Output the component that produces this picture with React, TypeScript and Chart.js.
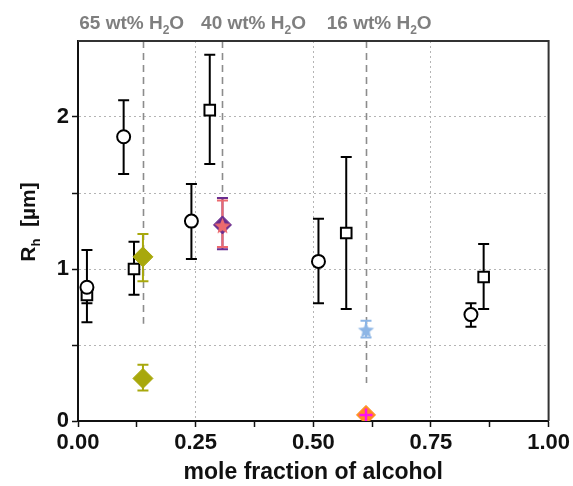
import React, { useEffect, useRef } from 'react';
import { Chart, registerables } from 'chart.js';

Chart.register(...registerables);

// ---- axis ticks ----
const xTickValues = [0, 0.125, 0.25, 0.375, 0.5, 0.625, 0.75, 0.875, 1];
const xMajorTicks = [0, 0.25, 0.5, 0.75, 1];
const xGridLines = [0.25, 0.5, 0.75];
const yTickValues = [0, 0.5, 1, 1.5, 2];
const yMajorTicks = [0, 1, 2];
const yGridLines = [0.5, 1, 1.5, 2];

// ---- data: open circles ----
const circleX = [0.019, 0.097, 0.241, 0.511, 0.835];
const circleY = [0.88, 1.87, 1.315, 1.05, 0.70];
const circleHi = [1.125, 2.11, 1.56, 1.33, 0.775];
const circleLo = [0.65, 1.625, 1.065, 0.775, 0.62];

// ---- data: open squares ----
const squareX = [0.019, 0.119, 0.28, 0.57, 0.862];
const squareY = [0.83, 1.0, 2.045, 1.237, 0.947];
const squareHi = [0.89, 1.18, 2.41, 1.737, 1.164];
const squareLo = [0.775, 0.83, 1.69, 0.737, 0.737];

// ---- data: olive diamonds ----
const oliveX = [0.138, 0.138];
const oliveY = [1.08, 0.28];
const oliveHi = [1.23, 0.37];
const oliveLo = [0.92, 0.20];

// ---- data: purple diamond / red star (40 wt%) ----
const purpleX = [0.307];
const purpleY = [1.29];
const purpleHi = [1.467];
const purpleLo = [1.13];
const redStarX = [0.307];
const redStarY = [1.285];
const redStarHi = [1.45];
const redStarLo = [1.145];

// ---- data: 16 wt% ----
const blueStarX = [0.612];
const blueStarY = [0.6];
const blueStarHi = [0.66];
const blueStarLo = [0.55];
const orangeX = [0.612];
const orangeY = [0.04];
const magentaX = [0.612];
const magentaY = [0.04];

// ---- annotations ----
const annotPercent = ['65', '40', '16'];
const annotTextX = [0.114, 0.373, 0.64];
const annotLineX = [0.138, 0.307, 0.612];
const annotLineYEnd = [0.64, 1.45, 0.25];

const FONT = "'Liberation Sans', Arial, sans-serif";

function pts(xs: number[], ys: number[]) {
  return xs.map((x, i) => ({ x, y: ys[i] }));
}

function makeStar(color: string, outer: number, inner: number) {
  const c = document.createElement('canvas');
  const size = Math.ceil(outer * 2) + 2;
  c.width = size;
  c.height = size;
  const g = c.getContext('2d')!;
  const cx = size / 2;
  const cy = size / 2 + outer * 0.1;
  g.beginPath();
  for (let i = 0; i < 10; i++) {
    const r = i % 2 === 0 ? outer : inner;
    const a = -Math.PI / 2 + (i * Math.PI) / 5;
    const px = cx + r * Math.cos(a);
    const py = cy + r * Math.sin(a);
    if (i === 0) g.moveTo(px, py);
    else g.lineTo(px, py);
  }
  g.closePath();
  g.fillStyle = color;
  g.fill();
  return c;
}

const near = (arr: number[], v: number) => arr.some((a) => Math.abs(a - v) < 1e-6);

const decorPlugin = {
  id: 'decor',
  beforeDatasetsDraw(chart: any) {
    const { ctx, chartArea } = chart;
    const xs = chart.scales.x;
    const ys = chart.scales.y;
    ctx.save();
    // dashed annotation lines
    ctx.strokeStyle = '#8c8c8c';
    ctx.lineWidth = 1.6;
    ctx.setLineDash([7, 5]);
    annotLineX.forEach((v, i) => {
      const px = Math.round(xs.getPixelForValue(v)) + 0.5;
      ctx.beginPath();
      ctx.moveTo(px, chartArea.top);
      ctx.lineTo(px, ys.getPixelForValue(annotLineYEnd[i]));
      ctx.stroke();
    });
    ctx.setLineDash([]);
    // error bars
    const dsets = chart.data.datasets;
    for (let i = dsets.length - 1; i >= 0; i--) {
      const ds = dsets[i];
      if (!ds.errHi) continue;
      ctx.strokeStyle = ds.errColor;
      ctx.lineWidth = 2;
      ds.data.forEach((p: any, j: number) => {
        const px = xs.getPixelForValue(p.x);
        const top = ys.getPixelForValue(ds.errHi[j]);
        const bot = ys.getPixelForValue(ds.errLo[j]);
        ctx.beginPath();
        ctx.moveTo(px, top);
        ctx.lineTo(px, bot);
        ctx.moveTo(px - 5.5, top);
        ctx.lineTo(px + 5.5, top);
        ctx.moveTo(px - 5.5, bot);
        ctx.lineTo(px + 5.5, bot);
        ctx.stroke();
      });
    }
    ctx.restore();
  },
  afterDraw(chart: any) {
    const { ctx, chartArea } = chart;
    const xs = chart.scales.x;
    ctx.save();
    // top & right frame
    ctx.strokeStyle = '#333';
    ctx.lineWidth = 2;
    ctx.beginPath();
    ctx.moveTo(chartArea.left, chartArea.top);
    ctx.lineTo(chartArea.right, chartArea.top);
    ctx.lineTo(chartArea.right, chartArea.bottom);
    ctx.stroke();

    // annotation texts
    ctx.fillStyle = '#7f7f7f';
    ctx.textBaseline = 'alphabetic';
    const big = `bold 19px ${FONT}`;
    const small = `bold 12px ${FONT}`;
    annotPercent.forEach((p, i) => {
      const a = `${p} wt% H`;
      ctx.font = big;
      const wa = ctx.measureText(a).width;
      const wo = ctx.measureText('O').width;
      ctx.font = small;
      const w2 = ctx.measureText('2').width;
      const total = wa + w2 + wo;
      let x0 = xs.getPixelForValue(annotTextX[i]) - total / 2;
      const base = chartArea.top - 12;
      ctx.font = big;
      ctx.fillText(a, x0, base);
      x0 += wa;
      ctx.font = small;
      ctx.fillText('2', x0, base + 5);
      x0 += w2;
      ctx.font = big;
      ctx.fillText('O', x0, base);
    });

    // y-axis title R_h [µm]
    ctx.fillStyle = '#111';
    ctx.translate(29, 222);
    ctx.rotate(-Math.PI / 2);
    const f1 = `bold 21px ${FONT}`;
    const f2 = `bold 13px ${FONT}`;
    ctx.font = f1;
    const wR = ctx.measureText('R').width;
    const rest = '  [µm]';
    const wRest = ctx.measureText(rest).width;
    ctx.font = f2;
    const wh = ctx.measureText('h').width;
    const tot = wR + wh + wRest;
    let sx = -tot / 2;
    ctx.textBaseline = 'middle';
    ctx.font = f1;
    ctx.fillText('R', sx, 0);
    sx += wR;
    ctx.font = f2;
    ctx.fillText('h', sx, 7);
    sx += wh;
    ctx.font = f1;
    ctx.fillText(rest, sx, 0);
    ctx.restore();
  },
};

export default function App() {
  const ref = useRef<HTMLCanvasElement | null>(null);

  useEffect(() => {
    if (!ref.current) return;
    const redStar = makeStar('#EC6A6E', 8.5, 3.8);
    const blueStar = makeStar('#8DB6E6', 8.5, 3.8);

    const chart = new Chart(ref.current, {
      type: 'scatter',
      data: {
        datasets: [
          {
            label: 'magenta',
            data: pts(magentaX, magentaY),
            pointStyle: 'cross',
            pointRadius: 6.5,
            borderColor: '#FF10F0',
            backgroundColor: '#FF10F0',
            borderWidth: 2.5,
          },
          {
            label: 'orange',
            data: pts(orangeX, orangeY),
            pointStyle: 'rectRot',
            pointRadius: 9.5,
            borderColor: '#FF8C1F',
            backgroundColor: '#FF8C1F',
            borderWidth: 1,
          },
          {
            label: 'redStar',
            data: pts(redStarX, redStarY),
            pointStyle: redStar as any,
            pointRadius: 9,
            errHi: redStarHi,
            errLo: redStarLo,
            errColor: '#EC6A6E',
          } as any,
          {
            label: 'purple',
            data: pts(purpleX, purpleY),
            pointStyle: 'rectRot',
            pointRadius: 9,
            borderColor: '#6A2D8F',
            backgroundColor: '#6A2D8F',
            borderWidth: 1,
            errHi: purpleHi,
            errLo: purpleLo,
            errColor: '#6A2D8F',
          } as any,
          {
            label: 'blueStar',
            data: pts(blueStarX, blueStarY),
            pointStyle: blueStar as any,
            pointRadius: 9,
            errHi: blueStarHi,
            errLo: blueStarLo,
            errColor: '#8DB6E6',
          } as any,
          {
            label: 'olive',
            data: pts(oliveX, oliveY),
            pointStyle: 'rectRot',
            pointRadius: 10,
            borderColor: '#A8A80C',
            backgroundColor: '#A8A80C',
            borderWidth: 1,
            errHi: oliveHi,
            errLo: oliveLo,
            errColor: '#A8A80C',
          } as any,
          {
            label: 'circles',
            data: pts(circleX, circleY),
            pointStyle: 'circle',
            pointRadius: 6.5,
            borderColor: '#000',
            backgroundColor: '#fff',
            borderWidth: 2,
            errHi: circleHi,
            errLo: circleLo,
            errColor: '#000',
          } as any,
          {
            label: 'squares',
            data: pts(squareX, squareY),
            pointStyle: 'rect',
            pointRadius: 7.5,
            borderColor: '#000',
            backgroundColor: '#fff',
            borderWidth: 2,
            errHi: squareHi,
            errLo: squareLo,
            errColor: '#000',
          } as any,
        ],
      },
      options: {
        responsive: false,
        animation: false,
        devicePixelRatio: 1,
        layout: { padding: { left: 0, right: 23, top: 41, bottom: 0 } },
        plugins: { legend: { display: false }, tooltip: { enabled: false } },
        scales: {
          x: {
            type: 'linear',
            min: 0,
            max: 1,
            afterBuildTicks: (s: any) => {
              s.ticks = xTickValues.map((v) => ({ value: v }));
            },
            afterFit: (s: any) => {
              s.height = 65;
            },
            ticks: {
              autoSkip: false,
              maxRotation: 0,
              padding: 3,
              color: '#111',
              font: { family: FONT, size: 22, weight: 'bold' },
              callback: (v: any) => (near(xMajorTicks, +v) ? (+v).toFixed(2) : ''),
            },
            grid: {
              color: (c: any) => (c.tick && near(xGridLines, c.tick.value) ? '#b4b4b4' : 'rgba(0,0,0,0)'),
              lineWidth: 1,
              tickColor: '#111',
              tickLength: 6,
              tickWidth: 1.5,
            },
            border: { display: true, color: '#111', width: 2, dash: [2, 3] },
            title: {
              display: true,
              text: 'mole fraction of alcohol',
              color: '#111',
              font: { family: FONT, size: 23, weight: 'bold' },
              padding: { top: 0, bottom: 0 },
            },
          },
          y: {
            type: 'linear',
            min: 0,
            max: 2.5,
            afterBuildTicks: (s: any) => {
              s.ticks = yTickValues.map((v) => ({ value: v }));
            },
            afterFit: (s: any) => {
              s.width = 78;
            },
            ticks: {
              autoSkip: false,
              padding: 3,
              color: '#111',
              font: { family: FONT, size: 22, weight: 'bold' },
              callback: (v: any) => (near(yMajorTicks, +v) ? String(Math.round(+v)) : ''),
            },
            grid: {
              color: (c: any) => (c.tick && near(yGridLines, c.tick.value) ? '#b4b4b4' : 'rgba(0,0,0,0)'),
              lineWidth: 1,
              tickColor: '#111',
              tickLength: 6,
              tickWidth: 1.5,
            },
            border: { display: true, color: '#111', width: 2, dash: [2, 3] },
          },
        },
      },
      plugins: [decorPlugin],
    } as any);

    return () => chart.destroy();
  }, []);

  return (
    <div style={{ position: 'fixed', left: 0, top: 0, width: 573, height: 486, background: '#fff' }}>
      <canvas ref={ref} width={573} height={486} style={{ display: 'block' }} />
    </div>
  );
}
